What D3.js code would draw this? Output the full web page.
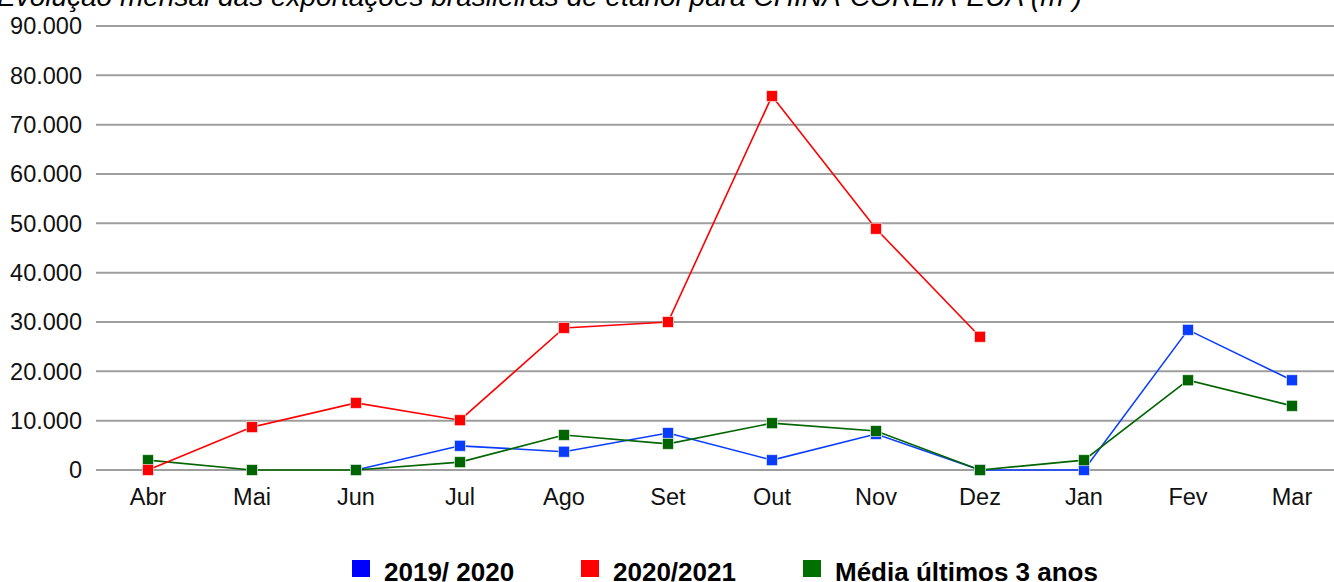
<!DOCTYPE html>
<html>
<head>
<meta charset="utf-8">
<script src="https://cdn.jsdelivr.net/npm/d3@7"></script>
<style>
  body { margin: 0; background: #fff; }
  svg { display: block; font-family: "Liberation Sans", Arial, sans-serif; }
</style>
</head>
<body>
<svg width="1334" height="582"></svg>
<script>
// months of the harvest year (Abr -> Mar)
let months = ['Abr', 'Mai', 'Jun', 'Jul', 'Ago', 'Set', 'Out', 'Nov', 'Dez', 'Jan', 'Fev', 'Mar']
let yTicks = [0, 10000, 20000, 30000, 40000, 50000, 60000, 70000, 80000, 90000]

// values (m3), null = no point
let safra1920 = [null, null, 0, 4900, 3700, 7500, 2000, 7300, 0, 0, 28400, 18200]
let safra2021 = [0, 8700, 13600, 10100, 28800, 30000, 75800, 48900, 27000, null, null, null]
let media3anos = [2000, 0, 0, 1600, 7100, 5300, 9500, 7900, 0, 2000, 18200, 13000]

let seriesNames = ['2019/ 2020', '2020/2021', 'Média últimos 3 anos']
let seriesColors = ['#0a3cff', '#ff0000', '#006400']

let title = 'Evolução mensal das exportações brasileiras de etanol para CHINA-COREIA-EUA (m³)'

let svg = d3.select('svg')
let plotLeft = 96, plotRight = 1344, plotTop = 26, plotBottom = 470

let x = d3.scaleBand().domain(months).range([plotLeft, plotRight])
let y = d3.scaleLinear().domain([0, 90000]).range([plotBottom, plotTop])
let fmt = d3.format(',.0f')
function label(v) { return fmt(v).replace(/,/g, '.') }

// title, cut off at the top like the original
svg.append('text')
  .attr('x', -3)
  .attr('y', 6)
  .attr('font-size', 28)
  .attr('font-style', 'italic')
  .attr('fill', '#000')
  .text(title)

// gridlines
svg.selectAll('line.grid').data(yTicks).enter().append('line')
  .attr('class', 'grid')
  .attr('x1', plotLeft)
  .attr('x2', 1334)
  .attr('y1', function (d) { return y(d) })
  .attr('y2', function (d) { return y(d) })
  .attr('stroke', '#9e9e9e')
  .attr('stroke-width', 2)

// y labels
svg.selectAll('text.ylabel').data(yTicks).enter().append('text')
  .attr('class', 'ylabel')
  .attr('x', 82)
  .attr('y', function (d) { return y(d) })
  .attr('dy', '0.36em')
  .attr('text-anchor', 'end')
  .attr('font-size', 23.5)
  .attr('fill', '#111')
  .text(label)

// x labels
svg.selectAll('text.xlabel').data(months).enter().append('text')
  .attr('class', 'xlabel')
  .attr('x', function (m) { return x(m) + x.bandwidth() / 2 })
  .attr('y', 505)
  .attr('text-anchor', 'middle')
  .attr('font-size', 23.5)
  .attr('fill', '#111')
  .text(function (m) { return m })

let allSeries = [safra1920, media3anos, safra2021]
let order = [0, 2, 1]

let line = d3.line()
  .defined(function (d) { return d.v !== null })
  .x(function (d) { return x(d.m) + x.bandwidth() / 2 })
  .y(function (d) { return y(d.v) })

allSeries.forEach(function (values, i) {
  let color = seriesColors[order[i]]
  let pts = values.map(function (v, j) { return { m: months[j], v: v } })

  svg.append('path')
    .datum(pts)
    .attr('d', line)
    .attr('fill', 'none')
    .attr('stroke', color)
    .attr('stroke-width', 1.6)

  svg.selectAll(null).data(pts.filter(function (d) { return d.v !== null })).enter().append('rect')
    .attr('x', function (d) { return x(d.m) + x.bandwidth() / 2 - 5.5 })
    .attr('y', function (d) { return y(d.v) - 5.5 })
    .attr('width', 11)
    .attr('height', 11)
    .attr('fill', color)
    .attr('stroke', '#fff')
    .attr('stroke-opacity', 0.6)
    .attr('stroke-width', 1)
})

// legend
let legendX = [352, 581, 803]
let legend = svg.selectAll('g.legend').data(seriesNames).enter().append('g')
  .attr('class', 'legend')
  .attr('transform', function (d, i) { return 'translate(' + legendX[i] + ',0)' })

legend.append('rect')
  .attr('x', 0)
  .attr('y', 560)
  .attr('width', 18)
  .attr('height', 17)
  .attr('fill', function (d, i) { return ['#0000ff', '#ff0000', '#007000'][i] })

legend.append('text')
  .attr('x', 32)
  .attr('y', 581)
  .attr('font-size', 26)
  .attr('font-weight', 'bold')
  .attr('fill', '#000')
  .text(function (d) { return d })
</script>
</body>
</html>
